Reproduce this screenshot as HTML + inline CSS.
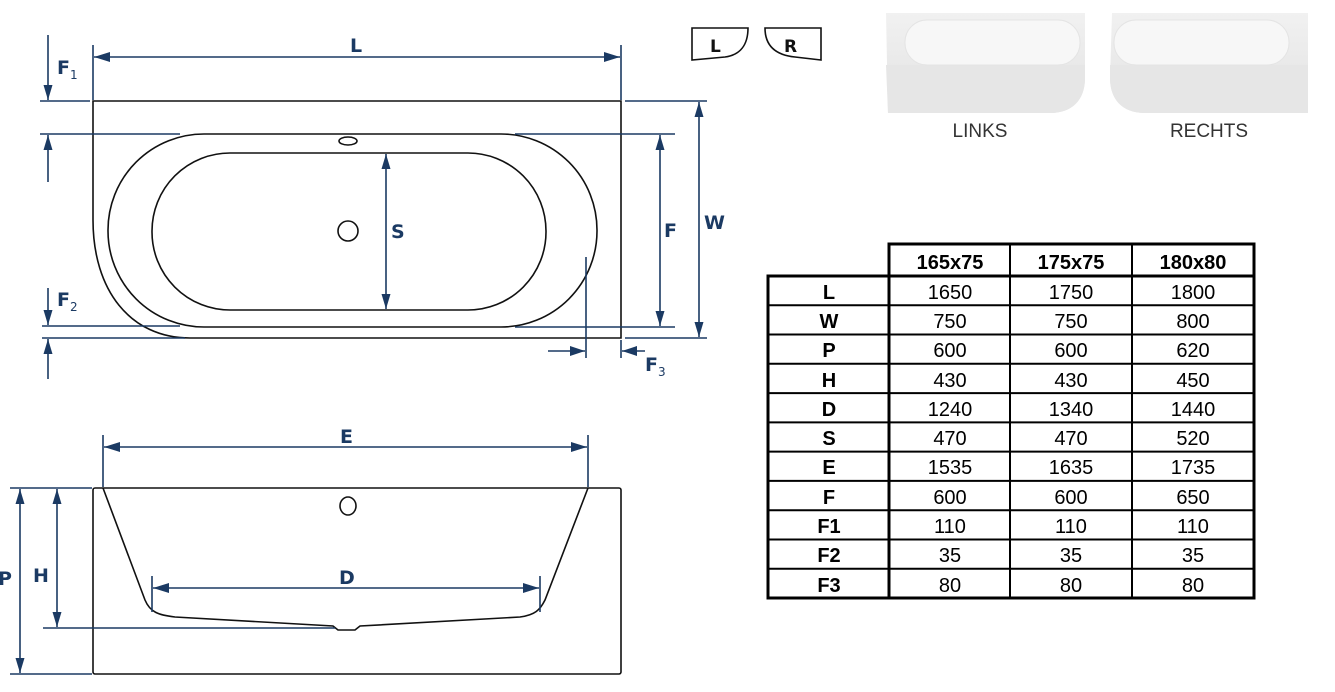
<!DOCTYPE html>
<html><head><meta charset="utf-8"><style>
html,body{margin:0;padding:0;background:#fff;width:1335px;height:692px;overflow:hidden}
svg{display:block}
.d{stroke:#1b3a63;stroke-width:1.6;fill:none}
.k{stroke:#111;stroke-width:1.6;fill:none}
.lb{font-family:"DejaVu Sans","Liberation Sans",sans-serif;font-size:19px;fill:#1b3a63;font-weight:bold}
.sb{font-size:12px;font-weight:normal}
.t{font-family:"Liberation Sans",sans-serif;font-size:20px;fill:#000;text-anchor:middle}
.tb{font-weight:bold}
</style></head><body>
<svg width="1335" height="692" viewBox="0 0 1335 692" xmlns="http://www.w3.org/2000/svg">
<defs>
<marker id="a" viewBox="0 0 10 10" refX="10" refY="5" markerWidth="15" markerHeight="9" orient="auto-start-reverse" markerUnits="userSpaceOnUse" preserveAspectRatio="none"><path d="M0,0 L10,5 L0,10z" fill="#1b3a63"/></marker>
<marker id="b" viewBox="0 0 10 10" refX="10" refY="5" markerWidth="16" markerHeight="10" orient="auto-start-reverse" markerUnits="userSpaceOnUse" preserveAspectRatio="none"><path d="M0,0 L10,5 L0,10z" fill="#1b3a63"/></marker>
<marker id="c" viewBox="0 0 10 10" refX="10" refY="5" markerWidth="15" markerHeight="10" orient="auto-start-reverse" markerUnits="userSpaceOnUse" preserveAspectRatio="none"><path d="M0,0 L10,5 L0,10z" fill="#1b3a63"/></marker>
<linearGradient id="g" x1="0" y1="0" x2="0" y2="1"><stop offset="0" stop-color="#f1f1f1"/><stop offset="1" stop-color="#e2e2e2"/></linearGradient>
</defs>

<path class="k" d="M93,101 L621,101 L621,338 L190,338 C130,338 93,290 93,220 Z"/>
<rect class="k" x="108" y="134" width="489" height="193" rx="96" ry="96"/>
<rect class="k" x="152" y="153" width="394" height="157" rx="78" ry="78"/>
<ellipse class="k" cx="348" cy="141" rx="9" ry="4"/>
<circle class="k" cx="348" cy="231" r="10"/>

<line class="d" x1="93" y1="45" x2="93" y2="100"/>
<line class="d" x1="621" y1="45" x2="621" y2="100"/>
<line class="d" x1="94" y1="57" x2="620" y2="57" marker-start="url(#b)" marker-end="url(#b)"/>
<text class="lb" x="350" y="52">L</text>
<line class="d" x1="48" y1="35" x2="48" y2="100" marker-end="url(#a)"/>
<line class="d" x1="40" y1="101" x2="90" y2="101"/>
<text class="lb" x="57" y="74">F<tspan class="sb" dy="5">1</tspan></text>
<line class="d" x1="40" y1="134" x2="180" y2="134"/>
<line class="d" x1="48" y1="182" x2="48" y2="135" marker-end="url(#a)"/>
<line class="d" x1="48" y1="288" x2="48" y2="325" marker-end="url(#a)"/>
<text class="lb" x="57" y="306">F<tspan class="sb" dy="5">2</tspan></text>
<line class="d" x1="42" y1="326" x2="180" y2="326"/>
<line class="d" x1="42" y1="338" x2="185" y2="338"/>
<line class="d" x1="48" y1="379" x2="48" y2="339" marker-end="url(#a)"/>
<line class="d" x1="386" y1="154" x2="386" y2="309" marker-start="url(#a)" marker-end="url(#a)"/>
<text class="lb" x="391" y="238">S</text>
<line class="d" x1="515" y1="134" x2="675" y2="134"/>
<line class="d" x1="515" y1="327" x2="675" y2="327"/>
<line class="d" x1="660" y1="135" x2="660" y2="326" marker-start="url(#a)" marker-end="url(#a)"/>
<text class="lb" x="664" y="237">F</text>
<line class="d" x1="625" y1="101" x2="707" y2="101"/>
<line class="d" x1="625" y1="338" x2="707" y2="338"/>
<line class="d" x1="699" y1="102" x2="699" y2="337" marker-start="url(#a)" marker-end="url(#a)"/>
<text class="lb" x="704" y="229">W</text>
<line class="d" x1="586" y1="257" x2="586" y2="358"/>
<line class="d" x1="621" y1="340" x2="621" y2="358"/>
<line class="d" x1="548" y1="351" x2="585" y2="351" marker-end="url(#c)"/>
<line class="d" x1="645" y1="351" x2="622" y2="351" marker-end="url(#c)"/>
<text class="lb" x="645" y="371">F<tspan class="sb" dy="5">3</tspan></text>

<rect class="k" x="93" y="488" width="528" height="186" rx="2"/>
<path class="k" d="M103,488 L145,600 C150,612 158,615 175,617 L333,626 L338,630 L355,630 L360,626 L520,617 C535,615 540,610 545,600 L588,488"/>
<ellipse class="k" cx="348" cy="506" rx="8" ry="9"/>
<line class="d" x1="103" y1="435" x2="103" y2="487"/>
<line class="d" x1="588" y1="435" x2="588" y2="487"/>
<line class="d" x1="104" y1="447" x2="587" y2="447" marker-start="url(#b)" marker-end="url(#b)"/>
<text class="lb" x="340" y="443">E</text>
<line class="d" x1="152" y1="576" x2="152" y2="612"/>
<line class="d" x1="540" y1="576" x2="540" y2="612"/>
<line class="d" x1="153" y1="588" x2="539" y2="588" marker-start="url(#b)" marker-end="url(#b)"/>
<text class="lb" x="339" y="584">D</text>
<line class="d" x1="10" y1="488" x2="92" y2="488"/>
<line class="d" x1="10" y1="674" x2="92" y2="674"/>
<line class="d" x1="20" y1="489" x2="20" y2="673" marker-start="url(#a)" marker-end="url(#a)"/>
<text class="lb" x="-2" y="585">P</text>
<line class="d" x1="57" y1="489" x2="57" y2="627" marker-start="url(#a)" marker-end="url(#a)"/>
<line class="d" x1="43" y1="628" x2="335" y2="628"/>
<text class="lb" x="33" y="582">H</text>

<path class="k" d="M692,28 L748,28 C748,45 740,55 725,57 L692,60 Z"/>
<text class="lb" x="710" y="52" style="fill:#111;font-size:17px">L</text>
<path class="k" d="M765,28 L821,28 L821,60 L795,57 C775,55 765,45 765,28 Z"/>
<text class="lb" x="784" y="52" style="fill:#111;font-size:17px">R</text>

<path d="M886,13 L1085,13 L1085,78 C1085,100 1072,113 1050,113 L888,113 Z" fill="url(#g)"/>
<path d="M886,65 L1085,65 L1085,78 C1085,100 1072,113 1050,113 L888,113 Z" fill="#e6e6e6"/>
<rect x="905" y="20" width="175" height="45" rx="22" fill="#f7f7f7" stroke="#e4e4e4"/>
<path d="M1112,13 L1308,13 L1308,113 L1145,113 C1123,113 1110,100 1110,78 Z" fill="url(#g)"/>
<path d="M1110,65 L1308,65 L1308,113 L1145,113 C1123,113 1110,100 1110,78 Z" fill="#e6e6e6"/>
<rect x="1114" y="20" width="175" height="45" rx="22" fill="#f7f7f7" stroke="#e4e4e4"/>
<text x="980" y="137" style="font-family:'Liberation Sans',sans-serif;font-size:19px;fill:#333" text-anchor="middle">LINKS</text>
<text x="1209" y="137" style="font-family:'Liberation Sans',sans-serif;font-size:19px;fill:#333" text-anchor="middle">RECHTS</text>

<g stroke="#000" fill="none">
<rect x="889" y="244" width="365" height="32" stroke-width="3"/>
<rect x="768" y="276" width="486" height="322" stroke-width="3"/>
<line x1="889" y1="244" x2="889" y2="598" stroke-width="3"/>
<line x1="1010" y1="244" x2="1010" y2="598" stroke-width="2"/>
<line x1="1132" y1="244" x2="1132" y2="598" stroke-width="2"/>
<g stroke-width="2">
<line x1="768" y1="305.3" x2="1254" y2="305.3"/><line x1="768" y1="334.5" x2="1254" y2="334.5"/>
<line x1="768" y1="363.8" x2="1254" y2="363.8"/><line x1="768" y1="393.1" x2="1254" y2="393.1"/>
<line x1="768" y1="422.4" x2="1254" y2="422.4"/><line x1="768" y1="451.6" x2="1254" y2="451.6"/>
<line x1="768" y1="480.9" x2="1254" y2="480.9"/><line x1="768" y1="510.2" x2="1254" y2="510.2"/>
<line x1="768" y1="539.5" x2="1254" y2="539.5"/><line x1="768" y1="568.7" x2="1254" y2="568.7"/>
</g></g>
<g class="t">
<text class="tb" x="950" y="269">165x75</text><text class="tb" x="1071" y="269">175x75</text><text class="tb" x="1193" y="269">180x80</text>
</g>
<g class="t">
<text class="tb" x="829" y="299">L</text><text x="950" y="299">1650</text><text x="1071" y="299">1750</text><text x="1193" y="299">1800</text>
<text class="tb" x="829" y="328">W</text><text x="950" y="328">750</text><text x="1071" y="328">750</text><text x="1193" y="328">800</text>
<text class="tb" x="829" y="357">P</text><text x="950" y="357">600</text><text x="1071" y="357">600</text><text x="1193" y="357">620</text>
<text class="tb" x="829" y="387">H</text><text x="950" y="387">430</text><text x="1071" y="387">430</text><text x="1193" y="387">450</text>
<text class="tb" x="829" y="416">D</text><text x="950" y="416">1240</text><text x="1071" y="416">1340</text><text x="1193" y="416">1440</text>
<text class="tb" x="829" y="445">S</text><text x="950" y="445">470</text><text x="1071" y="445">470</text><text x="1193" y="445">520</text>
<text class="tb" x="829" y="474">E</text><text x="950" y="474">1535</text><text x="1071" y="474">1635</text><text x="1193" y="474">1735</text>
<text class="tb" x="829" y="504">F</text><text x="950" y="504">600</text><text x="1071" y="504">600</text><text x="1193" y="504">650</text>
<text class="tb" x="829" y="533">F1</text><text x="950" y="533">110</text><text x="1071" y="533">110</text><text x="1193" y="533">110</text>
<text class="tb" x="829" y="562">F2</text><text x="950" y="562">35</text><text x="1071" y="562">35</text><text x="1193" y="562">35</text>
<text class="tb" x="829" y="592">F3</text><text x="950" y="592">80</text><text x="1071" y="592">80</text><text x="1193" y="592">80</text>
</g>
</svg>
</body></html>
